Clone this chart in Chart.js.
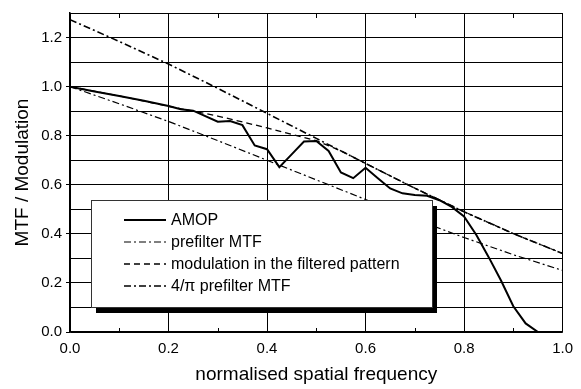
<!DOCTYPE html>
<html>
<head>
<meta charset="utf-8">
<script src="https://cdn.jsdelivr.net/npm/chart.js@4"></script>
<style>
  body { margin: 0; background: #fff; }
  #wrap { width: 581px; height: 389px; }
</style>
</head>
<body>
<div id="wrap"><canvas id="mtfChart"></canvas></div>
<script>
// AMOP measured curve
const amopFreq = [0, 0.05, 0.1, 0.15, 0.2, 0.225, 0.25, 0.3, 0.325, 0.35, 0.375, 0.4, 0.425, 0.45, 0.475, 0.5, 0.525, 0.55, 0.575, 0.6, 0.625, 0.65, 0.675, 0.7, 0.725, 0.75, 0.775, 0.8, 0.825, 0.85, 0.875, 0.9, 0.925, 0.95, 1.0];
const amopValue = [1.0, 0.98, 0.962, 0.942, 0.921, 0.908, 0.902, 0.857, 0.86, 0.843, 0.76, 0.745, 0.672, 0.724, 0.776, 0.778, 0.738, 0.65, 0.627, 0.669, 0.627, 0.585, 0.565, 0.558, 0.555, 0.537, 0.51, 0.471, 0.395, 0.305, 0.21, 0.105, 0.035, 0.0, 0.0];

// prefilter curves
const freq = [0, 0.1, 0.2, 0.3, 0.4, 0.5, 0.6, 0.7, 0.8, 0.9, 1.0];
const prefilterMTF = [1.0, 0.93, 0.858, 0.78, 0.70, 0.62, 0.54, 0.46, 0.385, 0.315, 0.251];
const fourPiMTF = [1.273, 1.184, 1.092, 0.993, 0.891, 0.789, 0.687, 0.586, 0.49, 0.401, 0.32];

// modulation in the filtered pattern
const modFreq = [0, 0.1, 0.2, 0.3, 0.4, 0.5, 0.55, 0.6, 0.7, 0.8, 0.9, 1.0];
const modValue = [1.0, 0.962, 0.92, 0.88, 0.832, 0.78, 0.738, 0.687, 0.586, 0.49, 0.401, 0.32];

const seriesNames = ["AMOP", "prefilter MTF", "modulation in the filtered pattern", "4/\u03c0 prefilter MTF"];

function toPoints(xs, ys) {
  return xs.map((x, i) => ({ x: x, y: ys[i] }));
}

const isEven = (v) => Math.round(v * 10) % 2 === 0;
const FONT = "'Liberation Sans', Arial, Helvetica, sans-serif";

// legend box with the black drop shadow, drawn over the curves
const boxLegend = {
  id: "boxLegend",
  afterDatasetsDraw(chart) {
    const ctx = chart.ctx;
    const area = chart.chartArea;
    const x = area.left + 21;
    const y = area.top + 187;
    const w = 341;
    const h = 107;
    ctx.save();
    ctx.fillStyle = "#000";
    ctx.fillRect(x + 5, y + 6, w, h);
    ctx.fillStyle = "#fff";
    ctx.fillRect(x, y, w, h);
    ctx.strokeStyle = "#333";
    ctx.lineWidth = 1;
    ctx.strokeRect(x + 0.5, y + 0.5, w, h);
    ctx.font = "16px " + FONT;
    ctx.textBaseline = "middle";
    chart.data.datasets.forEach((ds, i) => {
      const ry = y + 20 + i * 22;
      ctx.beginPath();
      ctx.setLineDash(ds.borderDash || []);
      ctx.lineWidth = ds.borderWidth;
      ctx.strokeStyle = "#000";
      ctx.moveTo(x + 33, ry);
      ctx.lineTo(x + 75, ry);
      ctx.stroke();
      ctx.setLineDash([]);
      ctx.fillStyle = "#000";
      ctx.fillText(ds.label, x + 80, ry + 1);
    });
    ctx.restore();
  }
};

// small inward ticks at the odd tenths, top and bottom
const minorTicks = {
  id: "minorTicks",
  afterDraw(chart) {
    const ctx = chart.ctx;
    const xs = chart.scales.x;
    const area = chart.chartArea;
    ctx.save();
    ctx.strokeStyle = "#000";
    ctx.lineWidth = 1;
    xs.ticks.forEach((t) => {
      if (isEven(t.value)) return;
      const px = Math.round(xs.getPixelForValue(t.value)) + 0.5;
      ctx.beginPath();
      ctx.moveTo(px, area.top);
      ctx.lineTo(px, area.top + 5);
      ctx.moveTo(px, area.bottom);
      ctx.lineTo(px, area.bottom - 4);
      ctx.stroke();
    });
    ctx.restore();
  }
};

Chart.defaults.font.family = FONT;
Chart.defaults.color = "#000";

new Chart(document.getElementById("mtfChart"), {
  type: "line",
  data: {
    datasets: [
      {
        label: seriesNames[0],
        data: toPoints(amopFreq, amopValue),
        borderColor: "#000",
        borderWidth: 2,
        pointRadius: 0,
        tension: 0
      },
      {
        label: seriesNames[1],
        data: toPoints(freq, prefilterMTF),
        borderColor: "#000",
        borderWidth: 1.2,
        borderDash: [7, 3, 2, 3],
        pointRadius: 0,
        tension: 0
      },
      {
        label: seriesNames[2],
        data: toPoints(modFreq, modValue),
        borderColor: "#000",
        borderWidth: 1.3,
        borderDash: [6, 4],
        pointRadius: 0,
        tension: 0
      },
      {
        label: seriesNames[3],
        data: toPoints(freq, fourPiMTF),
        borderColor: "#000",
        borderWidth: 1.6,
        borderDash: [7, 3, 2, 3],
        pointRadius: 0,
        tension: 0
      }
    ]
  },
  options: {
    responsive: true,
    maintainAspectRatio: false,
    animation: false,
    layout: { padding: { top: 5, right: 15, left: 0, bottom: 0 } },
    plugins: {
      legend: { display: false },
      tooltip: { enabled: false }
    },
    scales: {
      x: {
        type: "linear",
        min: 0,
        max: 1,
        ticks: {
          stepSize: 0.1,
          padding: 8,
          autoSkip: false,
          maxRotation: 0,
          font: { size: 15 },
          callback: (v) => (isEven(v) ? v.toFixed(1) : "")
        },
        grid: {
          color: (c) => (c.tick && isEven(c.tick.value) ? "#000" : "rgba(0,0,0,0)"),
          lineWidth: 1,
          drawTicks: false
        },
        border: { color: "#000", width: 1.5 },
        title: {
          display: true,
          text: "normalised spatial frequency",
          font: { size: 19 },
          padding: { top: 0, bottom: 3 }
        },
        afterFit: (s) => { s.height = 57; }
      },
      y: {
        min: 0,
        max: 1.3,
        ticks: {
          stepSize: 0.1,
          padding: 4,
          autoSkip: false,
          font: { size: 15 },
          callback: (v) => (isEven(v) && v < 1.25 ? v.toFixed(1) : "")
        },
        grid: {
          color: "#000",
          lineWidth: 1,
          tickLength: 4,
          tickColor: (c) => (c.tick && isEven(c.tick.value) && c.tick.value < 1.25 ? "#000" : "rgba(0,0,0,0)")
        },
        border: { color: "#000", width: 1.5 },
        title: {
          display: true,
          text: "MTF / Modulation",
          font: { size: 19 },
          padding: { top: 11, bottom: 0 }
        },
        afterFit: (s) => { s.width = 70; }
      }
    }
  },
  plugins: [boxLegend, minorTicks]
});
</script>
</body>
</html>
